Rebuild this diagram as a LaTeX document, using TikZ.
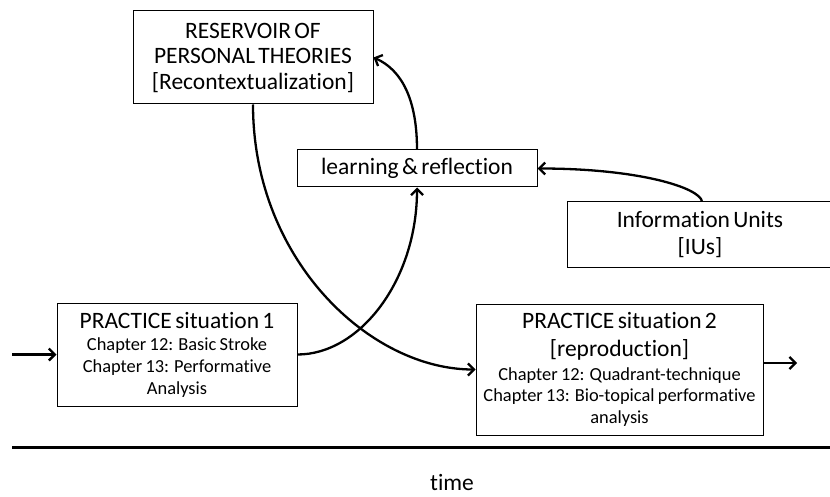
\documentclass[tikz,border=0pt]{standalone}
\usepackage{fontspec}
\setmainfont{Carlito}[Ligatures={NoCommon}]
\usetikzlibrary{arrows.meta}
\newcommand{\bigf}{\fontsize{23.5pt}{27.5pt}\selectfont}
\newcommand{\smallf}{\fontsize{18.4pt}{21.6pt}\selectfont}
\tikzset{
  box/.style={draw, line width=1pt, inner sep=0pt, align=center},
  conn/.style={line width=2.3pt, -{Straight Barb[length=6pt,width=12pt]}},
}
\begin{document}
\begin{tikzpicture}[x=1pt,y=-1pt]
\useasboundingbox (0,0) rectangle (830,497);
% boxes
\node[box, minimum width=240pt, minimum height=93pt, text width=236pt] (res) at (253,57.5)
  {\fontsize{23.5pt}{25.5pt}\selectfont RESERVOIR OF\par PERSONAL THEORIES\par\relax [Recontextualization]\par};
\node[box, minimum width=240pt, minimum height=37pt, text width=236pt] (learn) at (417,168.5)
  {\bigf learning \& reflection\par};
\node[box, minimum width=266pt, minimum height=65pt, text width=262pt] (info) at (700,234.5)
  {\bigf Information Units\par\relax [IUs]\par};
\node[box, minimum width=240pt, minimum height=103pt, text width=236pt] (p1) at (177,354.5)
  {\bigf PRACTICE situation 1\par\vspace{1pt}\smallf Chapter 12: Basic Stroke\par Chapter 13: Performative\par Analysis\par};
\node[box, minimum width=287pt, minimum height=131pt, text width=283pt] (p2) at (619.5,369.5)
  {\bigf PRACTICE situation 2\par\relax [reproduction]\par\vspace{2pt}\smallf Chapter 12: Quadrant-technique\par Chapter 13: Bio-topical performative\par analysis\par};
% free ends
\coordinate (in) at (12,354.5);
\coordinate (out) at (797,363);
\coordinate (tl) at (12,447);
\coordinate (tr) at (830,447);
% connectors
\draw[conn] (in) -- (p1.west);
\draw[conn] ([yshift=6.5pt]p2.east) -- (out);
\draw[conn] (p1.east) .. controls (360,354.5) and (417,280) .. (learn.south);
\draw[conn] (learn.north) .. controls (417,100) and (402,70) .. (res.east);
\draw[conn] ([xshift=2pt]info.north) .. controls (700,188) and (640,168.5) .. (learn.east);
\draw[conn] (res.south) .. controls (253,260) and (370,369.5) .. (p2.west);
% time axis
\draw[line width=3pt] (tl) -- (tr);
\node[font=\bigf, anchor=center] (time) at (452,482) {time};
\end{tikzpicture}
\end{document}
